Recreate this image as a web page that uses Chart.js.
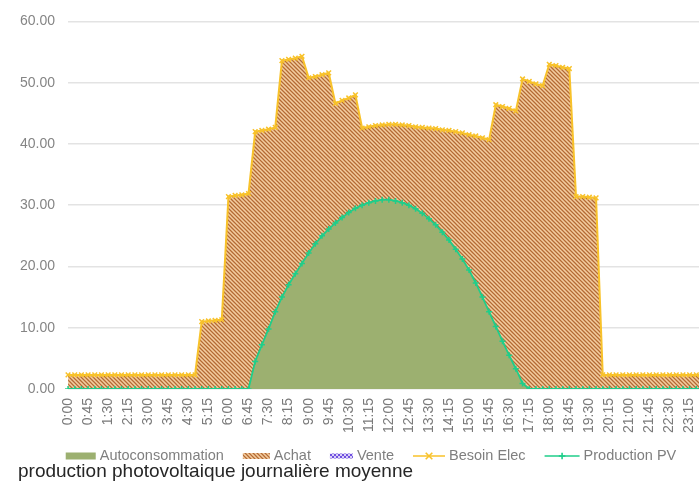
<!DOCTYPE html>
<html>
<head>
<meta charset="utf-8">
<script src="https://cdn.jsdelivr.net/npm/chart.js@4.4.1/dist/chart.umd.min.js"></script>
<style>
  html, body { margin: 0; padding: 0; background: #ffffff; overflow: hidden; }
  #wrap { position: relative; width: 742px; height: 489px; }
</style>
</head>
<body>
<div id="wrap"><canvas id="c" width="742" height="489"></canvas></div>
<script>
// Pas de temps : un point tous les quarts d'heure
const heures = [
  '0:00','0:15','0:30','0:45','1:00','1:15','1:30','1:45','2:00','2:15','2:30','2:45',
  '3:00','3:15','3:30','3:45','4:00','4:15','4:30','4:45','5:00','5:15','5:30','5:45',
  '6:00','6:15','6:30','6:45','7:00','7:15','7:30','7:45','8:00','8:15','8:30','8:45',
  '9:00','9:15','9:30','9:45','10:00','10:15','10:30','10:45','11:00','11:15','11:30','11:45',
  '12:00','12:15','12:30','12:45','13:00','13:15','13:30','13:45','14:00','14:15','14:30','14:45',
  '15:00','15:15','15:30','15:45','16:00','16:15','16:30','16:45','17:00','17:15','17:30','17:45',
  '18:00','18:15','18:30','18:45','19:00','19:15','19:30','19:45','20:00','20:15','20:30','20:45',
  '21:00','21:15','21:30','21:45','22:00','22:15','22:30','22:45','23:00','23:15','23:30','23:45'
];

// Besoin électrique moyen (kW)
const besoinElec = [
  2.3, 2.3, 2.3, 2.3,   2.3, 2.3, 2.3, 2.3,   2.3, 2.3, 2.3, 2.3,   2.3, 2.3, 2.3, 2.3,
  2.3, 2.3, 2.3, 2.3,   11.0, 11.1, 11.2, 11.3,   31.4, 31.6, 31.7, 31.9,
  42.0, 42.2, 42.4, 42.7,   53.6, 53.8, 54.0, 54.3,   50.8, 51.0, 51.3, 51.6,
  46.6, 47.1, 47.5, 48.0,   42.6, 42.8, 43.0, 43.1,   43.2, 43.2, 43.1, 43.0,
  42.8, 42.7, 42.6, 42.5,   42.3, 42.2, 42.0, 41.8,   41.5, 41.3, 41.0, 40.7,
  46.4, 46.1, 45.8, 45.4,   50.6, 50.2, 49.8, 49.5,   53.0, 52.8, 52.5, 52.3,
  31.4, 31.4, 31.3, 31.2,   2.3, 2.3, 2.3, 2.3,   2.3, 2.3, 2.3, 2.3,
  2.3, 2.3, 2.3, 2.3,   2.3, 2.3, 2.3, 2.3
];

// Production photovoltaïque moyenne (kW)
const productionPV = [
  0, 0, 0, 0,   0, 0, 0, 0,   0, 0, 0, 0,   0, 0, 0, 0,
  0, 0, 0, 0,   0, 0, 0, 0,   0, 0, 0, 0,
  4.5, 7.2, 9.8, 12.6,   15.0, 17.0, 18.8, 20.5,   22.2, 23.7, 25.0, 26.1,
  27.1, 28.0, 28.8, 29.5,   30.0, 30.4, 30.7, 30.9,   30.9, 30.7, 30.4, 30.0,
  29.4, 28.7, 27.8, 26.8,   25.6, 24.3, 22.8, 21.2,   19.4, 17.3, 15.0, 12.6,
  10.2, 7.8, 5.5, 3.3,   0.9, 0, 0, 0,   0, 0, 0, 0,
  0, 0, 0, 0,   0, 0, 0, 0,   0, 0, 0, 0,   0, 0, 0, 0,   0, 0, 0, 0
];

const yTicks = [0, 10, 20, 30, 40, 50, 60];
const titre = 'production photovoltaique journalière moyenne';

// Répartition des flux
const autoconsommation = besoinElec.map((b, i) => Math.min(b, productionPV[i]));
const achat = besoinElec.map((b, i) => b - autoconsommation[i]);
const vente = productionPV.map((p, i) => p - autoconsommation[i]);

const COL_AUTO = '#9cb070';
const COL_HATCH_DARK = '#b46a34';
const COL_HATCH_LIGHT = '#f3cda0';
const COL_VENTE = '#6f4fe0';
const COL_BESOIN = '#f8c22a';
const COL_PV = '#1fce8a';
const FONT = '"Liberation Sans", Arial, sans-serif';

// Motif hachuré "\\" pour les achats
function hatchPattern(ctx) {
  const t = document.createElement('canvas');
  t.width = 8; t.height = 8;
  const g = t.getContext('2d');
  g.fillStyle = COL_HATCH_LIGHT;
  g.fillRect(0, 0, 8, 8);
  g.strokeStyle = COL_HATCH_DARK;
  g.lineWidth = 1.25;
  g.beginPath();
  for (let k = -3; k <= 3; k++) {
    g.moveTo(k * 4 - 1, -1);
    g.lineTo(k * 4 + 9, 9);
  }
  g.stroke();
  return ctx.createPattern(t, 'repeat');
}

// Motif pointillé pour la vente
function dotPattern(ctx) {
  const t = document.createElement('canvas');
  t.width = 4; t.height = 4;
  const g = t.getContext('2d');
  g.fillStyle = '#d9d0f7';
  g.fillRect(0, 0, 4, 4);
  g.fillStyle = COL_VENTE;
  g.fillRect(0, 0, 2, 2);
  g.fillRect(2, 2, 2, 2);
  return ctx.createPattern(t, 'repeat');
}

// Icônes de légende
function iconBox(ctx, x, cy, w, h, fill) {
  ctx.fillStyle = fill;
  ctx.fillRect(x, cy - h / 2, w, h);
}
function iconLine(ctx, x, cy, w, color, marker) {
  ctx.save();
  ctx.strokeStyle = color;
  ctx.lineWidth = 1.6;
  ctx.beginPath();
  ctx.moveTo(x, cy); ctx.lineTo(x + w, cy);
  ctx.stroke();
  const cx = x + w / 2, r = 3.3;
  ctx.beginPath();
  if (marker === 'x') {
    ctx.moveTo(cx - r, cy - r); ctx.lineTo(cx + r, cy + r);
    ctx.moveTo(cx - r, cy + r); ctx.lineTo(cx + r, cy - r);
  } else {
    ctx.moveTo(cx - r, cy); ctx.lineTo(cx + r, cy);
    ctx.moveTo(cx, cy - r); ctx.lineTo(cx, cy + r);
  }
  ctx.stroke();
  ctx.restore();
}

const canvas = document.getElementById('c');
const ctx = canvas.getContext('2d');
const hatch = hatchPattern(ctx);
const dots = dotPattern(ctx);

// Légende et titre dessinés sous le graphique
const legendeEtTitre = {
  id: 'legendeEtTitre',
  afterDraw(chart) {
    const c = chart.ctx;
    const items = [
      { text: 'Autoconsommation', w: 30, draw: (x, y) => iconBox(c, x, y, 30, 7, COL_AUTO) },
      { text: 'Achat', w: 27, draw: (x, y) => iconBox(c, x, y, 27, 6, hatch) },
      { text: 'Vente', w: 23, draw: (x, y) => iconBox(c, x, y, 23, 5, dots) },
      { text: 'Besoin Elec', w: 32, draw: (x, y) => iconLine(c, x, y, 32, COL_BESOIN, 'x') },
      { text: 'Production PV', w: 35, draw: (x, y) => iconLine(c, x, y, 35, COL_PV, '+') }
    ];
    const gapIcon = 4, gapItem = 19;
    c.save();
    c.font = '14.5px ' + FONT;
    c.textBaseline = 'middle';
    c.textAlign = 'left';
    let total = 0;
    items.forEach((it, i) => {
      it.tw = c.measureText(it.text).width;
      total += it.w + gapIcon + it.tw + (i < items.length - 1 ? gapItem : 0);
    });
    const cy = 456;
    let x = chart.width / 2 - total / 2;
    items.forEach((it) => {
      it.draw(x, cy);
      x += it.w + gapIcon;
      c.fillStyle = '#7f7f7f';
      c.fillText(it.text, x, cy);
      x += it.tw + gapItem;
    });
    c.font = '19px ' + FONT;
    c.fillStyle = '#262626';
    c.textBaseline = 'alphabetic';
    c.fillText(titre, 18, 477);
    c.restore();
  }
};

new Chart(ctx, {
  type: 'line',
  data: {
    labels: heures,
    datasets: [
      {
        label: 'Autoconsommation', data: autoconsommation, stack: 'flux', order: 2,
        fill: 'origin', backgroundColor: COL_AUTO, borderWidth: 0, pointRadius: 0, tension: 0
      },
      {
        label: 'Achat', data: achat, stack: 'flux', order: 2,
        fill: '-1', backgroundColor: hatch, borderWidth: 0, pointRadius: 0, tension: 0
      },
      {
        label: 'Vente', data: vente, stack: 'flux', order: 2,
        fill: '-1', backgroundColor: dots, borderWidth: 0, pointRadius: 0, tension: 0
      },
      {
        label: 'Besoin Elec', data: besoinElec, stack: 'besoin', order: 1,
        fill: false, borderColor: COL_BESOIN, borderWidth: 2, tension: 0,
        pointStyle: 'crossRot', pointRadius: 3.3, pointBorderWidth: 1.5,
        pointBorderColor: COL_BESOIN, pointBackgroundColor: COL_BESOIN
      },
      {
        label: 'Production PV', data: productionPV, stack: 'pv', order: 0,
        fill: false, borderColor: COL_PV, borderWidth: 1.8, tension: 0,
        pointStyle: 'cross', pointRadius: 3, pointBorderWidth: 1.5,
        pointBorderColor: COL_PV, pointBackgroundColor: COL_PV
      }
    ]
  },
  options: {
    responsive: false,
    animation: false,
    devicePixelRatio: 1,
    layout: { padding: { left: 7, right: 39, top: 7, bottom: 47 } },
    scales: {
      x: {
        type: 'category',
        offset: false,
        grid: { display: false, drawTicks: false },
        border: { display: false },
        ticks: {
          autoSkip: false,
          minRotation: 90,
          maxRotation: 90,
          padding: 9,
          color: '#7a7a7a',
          font: { family: FONT, size: 14 },
          callback: (v, i) => (i % 3 === 0 ? heures[i] : '')
        }
      },
      y: {
        stacked: true,
        min: yTicks[0],
        max: yTicks[yTicks.length - 1],
        afterBuildTicks: (s) => { s.ticks = yTicks.map(v => ({ value: v })); },
        grid: { color: '#e3e3e3', lineWidth: 1.5, drawTicks: false },
        border: { display: false },
        ticks: {
          padding: 13,
          color: '#858585',
          font: { family: FONT, size: 14 },
          callback: (v) => Number(v).toFixed(2)
        }
      }
    },
    plugins: {
      tooltip: { enabled: false },
      legend: { display: false },
      title: { display: false }
    }
  },
  plugins: [legendeEtTitre]
});
</script>
</body>
</html>
